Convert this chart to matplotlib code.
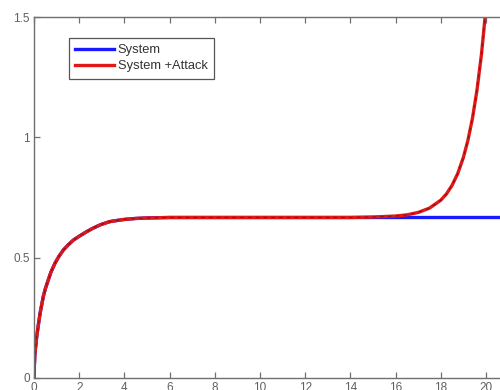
import matplotlib
matplotlib.use("Agg")
import matplotlib.pyplot as plt

plt.rcParams["font.family"] = ["Liberation Sans", "DejaVu Sans"]

# values
t_sys = [0, 0.01, 0.04, 0.12, 0.2, 0.27, 0.41, 0.5, 0.63, 0.75, 0.93, 1.1, 1.3, 1.5,
         1.74, 2.0, 2.33, 2.6, 2.92, 3.0, 3.36, 3.7, 4.0, 4.5, 5.0, 5.5, 6.0, 7.0, 8.0,
         10.0, 12.0, 14.0, 16.0, 18.0, 20.0, 22.0]
y_sys = [0, 0.04, 0.10, 0.172, 0.225, 0.269, 0.338, 0.37, 0.407, 0.44, 0.477, 0.505,
         0.532, 0.552, 0.573, 0.589, 0.608, 0.622, 0.636, 0.639, 0.650, 0.655, 0.659,
         0.663, 0.665, 0.666, 0.667, 0.667, 0.667, 0.667, 0.667, 0.667, 0.667, 0.667,
         0.667, 0.667]

n_shared = 31  # attack curve follows the system up to t = 12
t_att = t_sys[:n_shared] + [13.0, 14.0, 15.0, 16.0, 16.5, 17.0, 17.5, 18.0, 18.25,
                            18.5, 18.75, 19.0, 19.2, 19.4, 19.6, 19.8, 20.0, 20.2]
y_att = y_sys[:n_shared] + [0.667, 0.667, 0.669, 0.673, 0.678, 0.688, 0.706, 0.739,
                            0.765, 0.801, 0.850, 0.917, 0.988, 1.079, 1.196, 1.346,
                            1.539, 1.787]

fig = plt.figure(figsize=(5.0, 3.9), dpi=100)
fig.patch.set_facecolor("white")
ax = fig.add_axes([0.068, 0.031, 0.9944, 0.925])

ax.plot(t_sys, y_sys, color="#1a1aff", lw=2.4, label="System")
ax.plot(t_att, y_att, color="#e01818", lw=2.4, label="System +Attack")
ax.plot(t_att, y_att, color="#8a1010", lw=0.8, dashes=(3, 4))

ax.set_xlim(0, 22)
ax.set_ylim(0, 1.5)
ax.set_xticks(range(0, 22, 2))
ax.set_yticks([0, 0.5, 1, 1.5])
ax.set_yticklabels(["0", "0.5", "1", "1.5"])

for s in ax.spines.values():
    s.set_color("#707070")
    s.set_linewidth(1.0)
ax.tick_params(direction="in", length=4, width=0.9, color="#707070",
               labelcolor="#606060", labelsize=8.5, top=True, right=True, pad=3)

leg = ax.legend(loc="upper left", bbox_to_anchor=(0.07, 0.943), fontsize=9.3,
                fancybox=False, edgecolor="#555555", framealpha=1,
                handlelength=3.0, handletextpad=0.3, borderpad=0.5,
                labelspacing=0.3, borderaxespad=0, labelcolor="#333333")
leg.get_frame().set_linewidth(0.9)

fig.savefig("out.png", dpi=100, facecolor="white")
